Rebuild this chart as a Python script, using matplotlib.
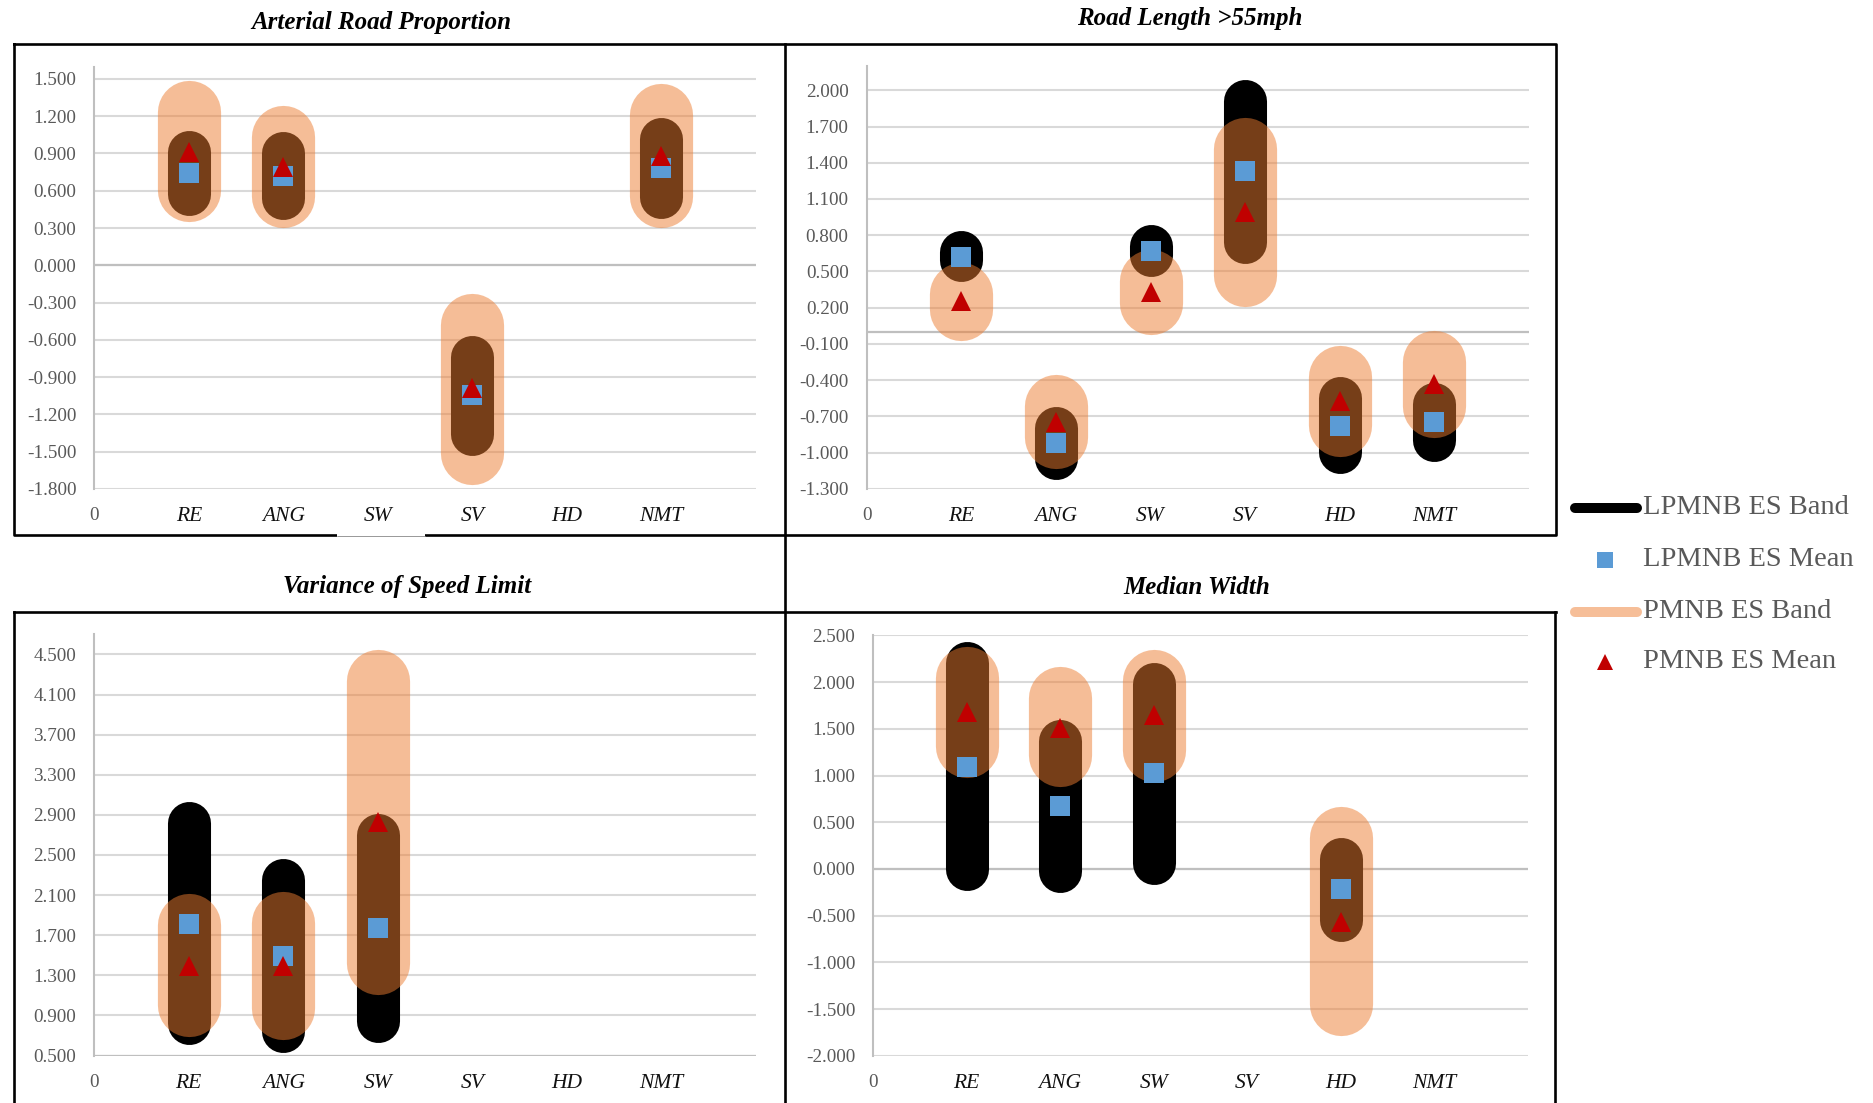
import numpy as np
import matplotlib
matplotlib.use("Agg")
import matplotlib.pyplot as plt

plt.rcParams["font.family"] = ["Liberation Serif", "DejaVu Serif"]

W, H, DPI = 1874, 1103, 100

categories = ["RE", "ANG", "SW", "SV", "HD", "NMT"]
nan = np.nan

# Arterial Road Proportion
arterial_lp_mean = [0.742, 0.715, nan, -1.045, nan, 0.780]
arterial_lp_low = [0.573, 0.545, nan, -1.357, nan, 0.550]
arterial_lp_high = [0.912, 0.901, nan, -0.736, nan, 1.018]
arterial_pm_mean = [0.910, 0.790, nan, -0.990, nan, 0.882]
arterial_pm_low = [0.609, 0.556, nan, -1.508, nan, 0.556]
arterial_pm_high = [1.230, 1.029, nan, -0.477, nan, 1.210]

# Road Length >55mph
length55_lp_mean = [0.622, -0.919, 0.671, 1.330, -0.776, -0.747]
length55_lp_low = [0.596, -1.045, 0.639, 0.745, -0.996, -0.896]
length55_lp_high = [0.662, -0.793, 0.711, 1.914, -0.550, -0.601]
length55_pm_mean = [0.255, -0.747, 0.333, 0.995, -0.575, -0.432]
length55_pm_low = [0.192, -0.867, 0.241, 0.470, -0.770, -0.610]
length55_pm_high = [0.313, -0.613, 0.422, 1.516, -0.375, -0.246]

# Variance of Speed Limit
speedvar_lp_mean = [1.811, 1.490, 1.767, nan, nan, nan]
speedvar_lp_low = [0.821, 0.745, 0.849, nan, nan, nan]
speedvar_lp_high = [2.816, 2.246, 2.702, nan, nan, nan]
speedvar_pm_mean = [1.397, 1.397, 2.830, nan, nan, nan]
speedvar_pm_low = [1.004, 0.976, 1.425, nan, nan, nan]
speedvar_pm_high = [1.798, 1.825, 4.231, nan, nan, nan]

# Median Width
median_lp_mean = [1.096, 0.670, 1.022, nan, -0.219, nan]
median_lp_low = [0.004, -0.022, 0.059, nan, -0.548, nan]
median_lp_high = [2.200, 1.367, 1.985, nan, 0.107, nan]
median_pm_mean = [1.678, 1.511, 1.652, nan, -0.563, nan]
median_pm_low = [1.315, 1.215, 1.270, nan, -1.444, nan]
median_pm_high = [2.048, 1.826, 2.011, nan, 0.326, nan]

legend_labels = ["LPMNB ES Band", "LPMNB ES Mean", "PMNB ES Band", "PMNB ES Mean"]

BLACK = "#000000"
ORANGE = "#ED7D31"
PEACH = "#F6BE98"
BLUE = "#5B9BD5"
RED = "#C00000"
GRID = "#D9D9D9"
AXIS = "#BFBFBF"
LABEL = "#595959"

panels = [
    dict(title="Arterial Road Proportion", title_xy=(381, 22),
         box=(94.4, 66.5, 755.6, 488.9), ylim=(-1.8, 1.6), step=0.3,
         lp=(arterial_lp_low, arterial_lp_high, arterial_lp_mean),
         pm=(arterial_pm_low, arterial_pm_high, arterial_pm_mean)),
    dict(title="Road Length >55mph", title_xy=(1190, 19),
         box=(866.6, 66.1, 1529.1, 488.9), ylim=(-1.3, 2.2), step=0.3,
         lp=(length55_lp_low, length55_lp_high, length55_lp_mean),
         pm=(length55_pm_low, length55_pm_high, length55_pm_mean)),
    dict(title="Variance of Speed Limit", title_xy=(407, 587),
         box=(94.2, 634.4, 755.7, 1055.5), ylim=(0.5, 4.7), step=0.4,
         lp=(speedvar_lp_low, speedvar_lp_high, speedvar_lp_mean),
         pm=(speedvar_pm_low, speedvar_pm_high, speedvar_pm_mean)),
    dict(title="Median Width", title_xy=(1197, 587),
         box=(873.2, 635.4, 1527.6, 1055.8), ylim=(-2.0, 2.5), step=0.5,
         lp=(median_lp_low, median_lp_high, median_lp_mean),
         pm=(median_pm_low, median_pm_high, median_pm_mean)),
]

fig = plt.figure(figsize=(W / DPI, H / DPI), dpi=DPI)
fig.patch.set_facecolor("white")

# overlay in pixel coordinates for frames, titles and legend
ov = fig.add_axes([0, 0, 1, 1])
ov.set_xlim(0, W)
ov.set_ylim(H, 0)
ov.axis("off")
ov.patch.set_visible(False)


def px_rect(l, t, r, b):
    return [l / W, 1 - b / H, (r - l) / W, (b - t) / H]


x = np.arange(1, len(categories) + 1)

for p in panels:
    ax = fig.add_axes(px_rect(*p["box"]))
    ax.patch.set_visible(False)
    y0, y1 = p["ylim"]
    ax.set_xlim(0, 7)
    ax.set_ylim(y0, y1)
    ticks = np.arange(y0, y1 + 1e-9, p["step"])
    ticks = ticks[ticks <= y1 + 1e-4]
    ax.set_yticks(ticks)
    ax.set_yticklabels([f"{t:.3f}" for t in ticks])
    ax.yaxis.grid(True, color=GRID, lw=1.5, zorder=0)
    ax.set_axisbelow(True)
    for s in ["top", "right", "bottom"]:
        ax.spines[s].set_visible(False)
    ax.spines["left"].set_color(AXIS)
    ax.spines["left"].set_linewidth(1.5)
    ax.axhline(max(0.0, y0), color=AXIS, lw=1.6, zorder=1)
    ax.tick_params(axis="y", length=0, pad=13, labelsize=13.8, labelcolor=LABEL)
    ax.set_xticks(range(0, 7))
    ax.set_xticklabels(["0"] + categories)
    ax.tick_params(axis="x", length=0, pad=13)
    for i, lbl in enumerate(ax.get_xticklabels()):
        if i == 0:
            lbl.set_color(LABEL)
            lbl.set_fontsize(13.8)
        else:
            lbl.set_color("#111111")
            lbl.set_fontstyle("italic")
            lbl.set_fontsize(15.5)

    lo, hi, mu = (np.asarray(a, float) for a in p["lp"])
    m = np.isfinite(mu)
    ax.vlines(x[m], lo[m], hi[m], colors=BLACK, linewidths=31, capstyle="round",
              zorder=2, clip_on=False)
    plo, phi, pmu = (np.asarray(a, float) for a in p["pm"])
    pm_ok = np.isfinite(pmu)
    ax.vlines(x[pm_ok], plo[pm_ok], phi[pm_ok], colors=ORANGE, linewidths=45.5,
              alpha=0.5, capstyle="round", zorder=3, clip_on=False)
    ax.plot(x[m], mu[m], "s", color=BLUE, ms=15, mew=0, zorder=4, clip_on=False)
    ax.plot(x[pm_ok], pmu[pm_ok], "^", color=RED, ms=15, mew=0, zorder=5, clip_on=False)

    tx, ty = p["title_xy"]
    ov.text(tx, ty, p["title"], ha="center", va="center", fontsize=18,
            fontweight="bold", fontstyle="italic", color="black")

# panel frames
frame_kw = dict(color="black", lw=1.9, solid_capstyle="projecting")
ov.plot([14, 1556, 1556, 14, 14], [43.5, 43.5, 534.8, 534.8, 43.5], **frame_kw)
ov.plot([785, 785], [43.5, 1110], **frame_kw)
ov.plot([14, 1556], [612, 612], **frame_kw)
ov.plot([14, 14], [612, 1110], **frame_kw)
ov.plot([1555, 1555], [612, 1110], **frame_kw)
# faint segment on the lower edge of the first frame
ov.plot([337, 425], [534.8, 534.8], color="white", lw=2.6, solid_capstyle="butt")
ov.plot([337, 425], [535.5, 535.5], color="#9a9a9a", lw=0.7, solid_capstyle="butt")

# legend
rows = [508, 560, 611.7, 661.7]
ov.plot([1575, 1637], [rows[0]] * 2, color=BLACK, lw=7.2, solid_capstyle="round")
ov.plot([1605], [rows[1]], "s", color=BLUE, ms=11, mew=0)
ov.plot([1575, 1637], [rows[2]] * 2, color=PEACH, lw=7.2, solid_capstyle="round")
ov.plot([1605], [rows[3]], "^", color=RED, ms=11, mew=0)
for ry, lab in zip(rows, legend_labels):
    ov.text(1643, ry, lab, ha="left", va="center", fontsize=20.5, color=LABEL)

fig.savefig("out.png", dpi=DPI, facecolor="white")
